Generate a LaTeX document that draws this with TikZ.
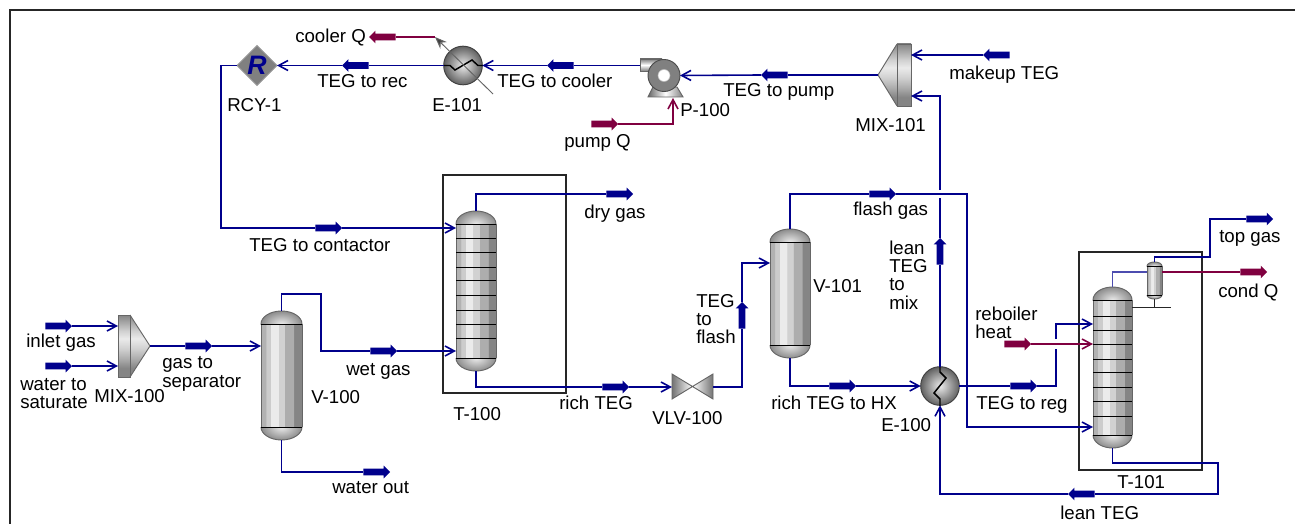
\documentclass[tikz,border=0pt]{standalone}
\usepackage{fontspec}
\setmainfont{Liberation Sans}
\usetikzlibrary{arrows.meta, shapes.geometric, shapes.arrows}

\definecolor{streamblue}{RGB}{0,0,140}
\definecolor{energyred}{RGB}{128,0,64}
\definecolor{bandA}{gray}{0.70}
\definecolor{bandB}{gray}{0.80}
\definecolor{bandC}{gray}{0.92}
\definecolor{bandD}{gray}{0.82}
\definecolor{bandE}{gray}{0.68}
\definecolor{bandF}{gray}{0.52}

\pgfdeclarehorizontalshading{vesselband}{100bp}{
color(0bp)=(bandA); color(31bp)=(bandA);
color(31.1bp)=(bandB); color(37bp)=(bandB);
color(37.1bp)=(bandC); color(46bp)=(bandC);
color(46.1bp)=(bandD); color(54bp)=(bandD);
color(54.1bp)=(bandE); color(65bp)=(bandE);
color(65.1bp)=(bandF); color(100bp)=(bandF)}
\pgfdeclareverticalshading{mixerband}{100bp}{
color(0bp)=(bandF); color(32bp)=(bandF);
color(40bp)=(bandE); color(48bp)=(bandD);
color(56bp)=(bandC); color(62bp)=(bandD);
color(68bp)=(bandE); color(75bp)=(bandF);
color(100bp)=(bandF)}

\tikzset{
hidden/.style={draw opacity=0, inner sep=0pt, outer sep=0pt},
frameline/.style={draw=black!85, line width=1.5pt},
stream/.style={draw=streamblue, line width=1.2pt},
thinstream/.style={draw=streamblue, line width=0.8pt},
vapour/.style={draw=streamblue!70, line width=0.9pt},
feed/.style={stream, -{Straight Barb[length=7pt, width=7.5pt, line width=1.2pt]}},
energy/.style={draw=energyred, line width=1.2pt},
energyfeed/.style={energy, -{Straight Barb[length=7pt, width=7.5pt, line width=1.2pt]}},
tagarrow/.style={single arrow, fill=streamblue, draw=none, inner sep=0pt, outer sep=0pt,
    text width=4.6pt, text height=2.3pt, text depth=2.3pt,
    minimum height=20pt, minimum width=9pt, single arrow head extend=2.2pt},
energytag/.style={tagarrow, fill=energyred},
toleft/.style={shape border rotate=180},
toup/.style={shape border rotate=90},
outline/.style={draw=black!60, line width=0.7pt},
trayline/.style={draw=black, line width=0.7pt},
hxball/.style={circle, draw=black!75, line width=0.7pt, inner sep=0pt, outer sep=0pt,
    minimum size=29pt, inner color=white!92!black, outer color=black!62},
zigzag/.style={draw=black, line width=1.1pt},
lbl/.style={anchor=west, inner sep=0pt, align=left, text=black,
    font=\fontsize{14}{13.7}\selectfont},
}

% name, centre x, top y, bottom y, half width, dome height
\newcommand{\vessel}[6]{
    \shade[shading=vesselband] (#2-#5,#3+#6) rectangle (#2+#5,#4-#6);
    \begin{scope}
        \clip (#2-#5-1,#3-1) rectangle (#2+#5+1,#3+#6);
        \shade[inner color=white!92!black, outer color=black!45] (#2,#3+#6) ellipse [x radius=#5, y radius=#6];
        \draw[outline] (#2,#3+#6) ellipse [x radius=#5, y radius=#6];
    \end{scope}
    \begin{scope}
        \clip (#2-#5-1,#4+1) rectangle (#2+#5+1,#4-#6);
        \shade[inner color=white!92!black, outer color=black!45] (#2,#4-#6) ellipse [x radius=#5, y radius=#6];
        \draw[outline] (#2,#4-#6) ellipse [x radius=#5, y radius=#6];
    \end{scope}
    \draw[outline] (#2-#5,#3+#6) -- (#2-#5,#4-#6);
    \draw[outline] (#2+#5,#3+#6) -- (#2+#5,#4-#6);
    \draw[trayline] (#2-#5,#3+#6) -- (#2+#5,#3+#6);
    \draw[trayline] (#2-#5,#4-#6) -- (#2+#5,#4-#6);
    \node[hidden, minimum width=2*#5*0.75pt, minimum height=(#4-#3)*0.75pt] (#1) at (#2,#3/2+#4/2) { };
}

% name, back x, face x, tip x, top y, bottom y
\newcommand{\mixer}[6]{
    \shade[shading=mixerband] (#3,#5) -- (#4,#5/2+#6/2) -- (#3,#6) -- cycle;
    \shade[shading=mixerband] (#2,#5) rectangle (#3,#6);
    \draw[outline] (#3,#5) -- (#4,#5/2+#6/2) -- (#3,#6);
    \draw[outline] (#2,#5) rectangle (#3,#6);
    \coordinate (#1) at (#4,#5/2+#6/2);
}

\begin{document}
\begin{tikzpicture}[x=0.75pt, y=-0.75pt]
    \useasboundingbox (0,0) rectangle (1295,524);

    %outer lines and column boxes
    \draw[frameline] (10,524) -- (10,10) -- (1295,10);
    \node[rectangle, frameline, hidden, draw opacity=1, minimum width=92pt, minimum height=163.5pt] (t100box) at (504.5,284) { };
    \node[rectangle, frameline, hidden, draw opacity=1, minimum width=92pt, minimum height=163.5pt] (t101box) at (1140.5,361) { };

    %equipment
    \mixer{mix100}{118}{130}{150}{315}{377}
    \mixer{mix101}{911}{897}{878}{44}{106}
    \vessel{v100}{281.5}{311}{440}{20.5}{13}
    \vessel{v101}{790}{229}{358}{20}{13}
    \vessel{t100}{476}{211}{371}{20}{13}
    \vessel{t101}{1112.5}{287}{448}{19.5}{13}
    \vessel{cond}{1154.5}{262}{299}{7.5}{4}
    \foreach \trayy in {238,252,267,280,295,310,324,338}
        \draw[trayline] (456,\trayy) -- (496,\trayy);
    \foreach \trayy in {316,330,344,359,372,387,401,416}
        \draw[trayline] (1093,\trayy) -- (1132,\trayy);

    %valve
    \shade[left color=black!55, right color=white] (672,374) -- (692.5,387) -- (672,399) -- cycle;
    \shade[left color=white, right color=black!55] (713,374) -- (692.5,387) -- (713,399) -- cycle;
    \draw[outline] (672,374) -- (713,399) -- (713,374) -- (672,399) -- cycle;
    \node[hidden, minimum width=30.75pt, minimum height=18.75pt] (vlv100) at (692.5,387) { };

    %pump
    \shade[top color=black!50, bottom color=black!50, middle color=white] (640,59) rectangle (662,71);
    \draw[outline] (640,59) rectangle (662,71);
    \shade[left color=black!60, right color=black!50, middle color=white] (648,97) -- (653,87) -- (677,87) -- (683,97) -- cycle;
    \draw[outline] (648,97) -- (653,87) -- (677,87) -- (683,97) -- cycle;
    \node[circle, fill=black!50, draw=black!70, line width=0.7pt, inner sep=0pt, outer sep=0pt, minimum size=24pt] (p100) at (664,75.5) { };
    \node[circle, fill=white, draw=black!25, inner sep=0pt, minimum size=9pt] (p100eye) at (p100) { };
    \coordinate (p100out) at (640,65.5);
    \coordinate (p100in) at (673,98);

    %heat exchangers and recycle
    \node[hxball] (e100) at (940,386) { };
    \node[hxball] (e101) at (463,65.5) { };
    \node[diamond, aspect=1, fill=black!50, draw=black!40, line width=0.7pt, inner sep=0pt, outer sep=0pt,
        minimum width=30pt, minimum height=30pt, text=streamblue,
        font=\fontsize{20}{20}\selectfont\bfseries\itshape] (rcy1) at (257,65.5) {R};
    \draw[zigzag] (444,65.5) -- (450,65.5) -- (455,70) -- (472,60) -- (478,65.5) -- (483,65.5);
    \draw[zigzag] (940,367) -- (940,372) -- (946,378) -- (934,393) -- (940,399) -- (940,406);
    \coordinate (e101q) at (435,37);
    \draw[draw=black!60, line width=0.7pt, -{Stealth[length=9pt, width=7pt, fill=black!75]}] (493,94) -- (e101q);

    %stream arrows
    \node[tagarrow] (inletgas) at (57,326) { };
    \node[tagarrow] (watersat) at (57,366) { };
    \node[tagarrow] (gassep) at (197,346) { };
    \node[tagarrow] (wetgas) at (382,351) { };
    \node[tagarrow] (waterout) at (375,472) { };
    \node[tagarrow] (tegcontactor) at (327,228) { };
    \node[tagarrow] (drygas) at (618,194) { };
    \node[tagarrow] (richteg) at (614,387) { };
    \node[tagarrow, toup] (tegflash) at (742,317) { };
    \node[tagarrow] (flashgas) at (881,194) { };
    \node[tagarrow] (richhx) at (841,386) { };
    \node[tagarrow, toup] (leanmix) at (940,253) { };
    \node[tagarrow] (tegreg) at (1022,386) { };
    \node[tagarrow, toleft] (leanteg) at (1083,494) { };
    \node[tagarrow] (topgas) at (1258,219) { };
    \node[tagarrow, toleft] (tegrec) at (357,65.5) { };
    \node[tagarrow, toleft] (tegcooler) at (562,65.5) { };
    \node[tagarrow, toleft] (tegpump) at (776,75) { };
    \node[tagarrow, toleft] (makeup) at (998,55) { };
    \node[energytag, toleft] (coolerq) at (384,37) { };
    \node[energytag] (pumpq) at (603,124) { };
    \node[energytag] (reboiler) at (1016,344) { };
    \node[energytag] (condq) at (1252,272) { };

    %bridges over crossing lines
    \coordinate (gapupper) at (940,190);
    \coordinate (gaplower) at (940,198);
    \coordinate (regupper) at (1056,339);
    \coordinate (reglower) at (1056,349);

    %streams on the left
    \draw[feed] (inletgas.tip) -- (118,326);
    \draw[feed] (watersat.tip) -- (118,366);
    \draw[stream] (mix100) -- (gassep.tail);
    \draw[feed] (gassep.tip) -- (v100.west |- gassep.tip);
    \draw[stream] (v100.north) |- (321,294) |- (wetgas.tail);
    \draw[feed] (wetgas.tip) -- (t100.west |- wetgas.tip);
    \draw[stream] (v100.south) |- (waterout.tail);

    %recycle loop on top
    \draw[stream] (mix101) -- (tegpump.tail);
    \draw[feed] (tegpump.tip) -- (p100.east);
    \draw[stream] (p100out) -- (tegcooler.tail);
    \draw[feed] (tegcooler.tip) -- (e101.east);
    \draw[stream] (e101.west) -- (tegrec.tail);
    \draw[feed] (tegrec.tip) -- (rcy1.east);
    \draw[stream] (rcy1.west) -| (221,228) -- (tegcontactor.tail);
    \draw[feed] (tegcontactor.tip) -- (t100.west |- tegcontactor.tip);
    \draw[feed] (makeup.tip) -- (911,55);
    \draw[feed] (gapupper) |- (911,96);
    \draw[stream] (e100.north) -- (leanmix.tail);
    \draw[stream] (leanmix.tip) -- (gaplower);

    %contactor to flash
    \draw[thinstream] (t100.north) |- (512,194);
    \draw[stream] (512,194) -- (drygas.tail);
    \draw[thinstream] (t100.south) |- (537,387);
    \draw[stream] (537,387) -- (richteg.tail);
    \draw[feed] (richteg.tip) -- (vlv100.west);
    \draw[stream] (vlv100.east) -| (tegflash.tail);
    \draw[feed] (tegflash.tip) |- (v101.west |- 770,263);
    \draw[stream] (v101.north) |- (flashgas.tail);
    \draw[feed] (flashgas.tip) -| (967,300) |- (t101.west |- 1093,427);
    \draw[stream] (v101.south) |- (richhx.tail);
    \draw[feed] (richhx.tip) -- (e100.west);

    %regenerator
    \draw[stream] (e100.east) -- (tegreg.tail);
    \draw[stream] (tegreg.tip) -| (reglower);
    \draw[feed] (regupper) |- (t101.west |- 1093,324);
    \draw[vapour] (t101.north) |- (1147,272);
    \draw[thinstream] (cond.north) |- (1172,257);
    \draw[stream] (1172,257) -| (1210,230) |- (topgas.tail);
    \draw[thinstream] (t101.south) |- (1172,463);
    \draw[stream] (1172,463) -| (1218,480) |- (leanteg.tail);
    \draw[feed] (leanteg.tip) -| (e100.south);
    \draw[line width=0.7pt, draw=black!85] (cond.south) -- (1154.5,307);
    \draw[line width=0.7pt, draw=black!85] (1132,307) -- (1171,307);

    %energy streams
    \draw[energy] (e101q) -- (coolerq.tail);
    \draw[energyfeed] (pumpq.tip) -| (p100in);
    \draw[energyfeed] (reboiler.tip) -- (t101.west |- reboiler.tip);
    \draw[energy, line width=1pt] (cond.east |- condq.tail) -- (condq.tail);

    %labels
    \node[lbl] (lblinlet) at (26,343) {inlet gas};
    \node[lbl] (lblwater) at (20,393.5) {water to\\saturate};
    \node[lbl] (lblmix100) at (94,396.5) {MIX-100};
    \node[lbl] (lblgassep) at (162,374) {gas to\\separator};
    \node[lbl] (lblv100) at (311,397) {V-100};
    \node[lbl] (lblwet) at (346,371) {wet gas};
    \node[lbl] (lblwaterout) at (332,488) {water out};
    \node[lbl] (lblcontactor) at (249,245) {TEG to contactor};
    \node[lbl] (lblt100) at (453,414) {T-100};
    \node[lbl] (lbldry) at (584,214) {dry gas};
    \node[lbl] (lblrich) at (559,403) {rich TEG};
    \node[lbl] (lblvlv) at (652,418) {VLV-100};
    \node[lbl] (lblflash) at (696,319) {TEG\\to\\flash};
    \node[lbl] (lblv101) at (813,286) {V-101};
    \node[lbl] (lblflashgas) at (853,211) {flash gas};
    \node[lbl] (lblrichhx) at (771,403) {rich TEG to HX};
    \node[lbl] (lble100) at (881,425.5) {E-100};
    \node[lbl] (lblleanmix) at (889,275) {lean\\TEG\\to\\mix};
    \node[lbl] (lblreboiler) at (975,322.5) {reboiler\\heat};
    \node[lbl] (lblreg) at (976,405) {TEG to reg};
    \node[lbl] (lbltop) at (1219,238) {top gas};
    \node[lbl] (lblcond) at (1218,292) {cond Q};
    \node[lbl] (lblt101) at (1117,482) {T-101};
    \node[lbl] (lbllean) at (1060,513) {lean TEG};
    \node[lbl] (lblcooler) at (295,38) {cooler Q};
    \node[lbl] (lblrec) at (317,81) {TEG to rec};
    \node[lbl] (lblrcy) at (227,105) {RCY-1};
    \node[lbl] (lble101) at (432,105) {E-101};
    \node[lbl] (lbltocooler) at (497,81) {TEG to cooler};
    \node[lbl] (lblp100) at (680,110) {P-100};
    \node[lbl] (lblpumpq) at (564,143) {pump Q};
    \node[lbl] (lbltopump) at (723,92) {TEG to pump};
    \node[lbl] (lblmix101) at (855,125) {MIX-101};
    \node[lbl] (lblmakeup) at (949,75) {makeup TEG};
\end{tikzpicture}
\end{document}
